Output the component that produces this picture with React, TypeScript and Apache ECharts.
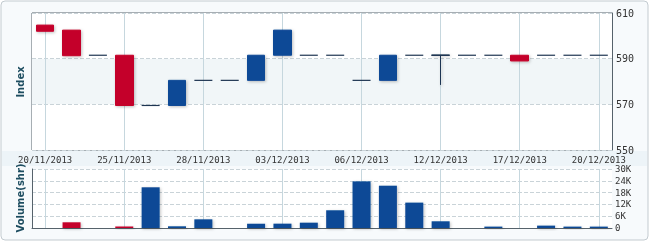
import React, { useEffect, useRef } from 'react';
import * as echarts from 'echarts';

const dates = [
  '20/11/2013', '21/11/2013', '22/11/2013', '25/11/2013', '26/11/2013', '27/11/2013',
  '28/11/2013', '29/11/2013', '02/12/2013', '03/12/2013', '04/12/2013', '05/12/2013',
  '06/12/2013', '09/12/2013', '11/12/2013', '12/12/2013', '13/12/2013', '16/12/2013',
  '17/12/2013', '18/12/2013', '19/12/2013', '20/12/2013',
];
const opens = [604.7, 602.5, 591.5, 591.5, 569.5, 569.5, 580.5, 580.5, 580.5, 591.5, 591.5, 591.5, 580.5, 580.5, 591.5, 591.5, 591.5, 591.5, 591.5, 591.5, 591.5, 591.5];
const closes = [602.0, 591.3, 591.5, 569.5, 569.5, 580.5, 580.5, 580.5, 591.5, 602.5, 591.5, 591.5, 580.5, 591.5, 591.5, 591.5, 591.5, 591.5, 589.0, 591.5, 591.5, 591.5];
const lows = [602.0, 591.3, 591.5, 569.5, 569.5, 569.5, 580.5, 580.5, 580.5, 591.5, 591.5, 591.5, 580.5, 580.5, 591.5, 578.5, 591.5, 591.5, 589.0, 591.5, 591.5, 591.5];
const highs = [604.7, 602.5, 591.5, 591.5, 569.5, 580.5, 580.5, 580.5, 591.5, 602.5, 591.5, 591.5, 580.5, 591.5, 591.5, 591.5, 591.5, 591.5, 591.5, 591.5, 591.5, 591.5];
const volumes = [0, 2900, 0, 700, 20700, 850, 4400, 0, 2200, 2200, 2700, 9000, 23700, 21500, 12900, 3400, 0, 700, 0, 1200, 700, 700];

const RED = '#c4002a';
const BLUE = '#0a4896';
const DOJI = '#1e3552';
const MONO = 'DejaVu Sans Mono';

export default function App() {
  const ref = useRef<HTMLDivElement>(null);
  useEffect(() => {
    if (!ref.current) return;
    const chart = echarts.init(ref.current, null, { renderer: 'svg' });
    const candleData = dates.map((_, i) => [opens[i], closes[i], lows[i], highs[i]]);
    const dojiData = dates.map((_, i) => [i, closes[i], opens[i] === closes[i] ? 1 : 0]);
    const volData = volumes.map((v, i) => ({
      value: v,
      itemStyle: { color: closes[i] < opens[i] ? RED : BLUE },
    }));
    const shadow = {
      shadowBlur: 3,
      shadowColor: 'rgba(0,0,0,0.25)',
      shadowOffsetX: 1,
      shadowOffsetY: 1,
    };
    chart.setOption({
      animation: false,
      backgroundColor: 'transparent',
      graphic: [
        {
          type: 'rect',
          z: -10,
          shape: { x: 1, y: 1, width: 647, height: 239, r: 4 },
          style: { fill: '#f7fafc', stroke: '#c3cbd0', lineWidth: 1 },
          silent: true,
        },
        {
          type: 'rect',
          z: -9,
          shape: { x: 2, y: 151, width: 645, height: 15 },
          style: { fill: '#edf4f8' },
          silent: true,
        },
        {
          type: 'text',
          x: 20,
          y: 82,
          rotation: Math.PI / 2,
          style: {
            text: 'Index',
            align: 'center',
            verticalAlign: 'middle',
            fill: '#1d4d60',
            font: 'bold 10px "DejaVu Sans"',
          },
        },
        {
          type: 'text',
          x: 20,
          y: 198,
          rotation: Math.PI / 2,
          style: {
            text: 'Volume(shr)',
            align: 'center',
            verticalAlign: 'middle',
            fill: '#1d4d60',
            font: 'bold 10px "DejaVu Sans"',
          },
        },
      ],
      grid: [
        {
          left: 32, right: 38, top: 13, height: 137,
          show: true, backgroundColor: '#ffffff', borderColor: '#56626b', borderWidth: 1,
        },
        {
          left: 32, right: 38, top: 169, height: 59,
          show: true, backgroundColor: '#ffffff', borderWidth: 0,
        },
      ],
      xAxis: [
        {
          type: 'category',
          gridIndex: 0,
          data: dates,
          boundaryGap: true,
          axisLine: { show: false },
          axisTick: { show: false },
          axisLabel: {
            interval: 2,
            margin: 5,
            color: '#333333',
            fontFamily: MONO,
            fontSize: 9,
          },
          splitLine: {
            show: true,
            interval: 2,
            alignWithLabel: true,
            lineStyle: { color: '#c6d7de', width: 1 },
          },
        },
        {
          type: 'category',
          gridIndex: 1,
          data: dates,
          boundaryGap: true,
          axisLine: { show: true, lineStyle: { color: '#56626b', width: 1 } },
          axisTick: { show: false },
          axisLabel: { show: false },
          splitLine: {
            show: true,
            interval: 2,
            alignWithLabel: true,
            lineStyle: { color: '#c6d7de', width: 1 },
          },
        },
      ],
      yAxis: [
        {
          type: 'value',
          gridIndex: 0,
          position: 'right',
          min: 550,
          max: 610,
          interval: 20,
          axisLine: { show: true, lineStyle: { color: '#56626b' } },
          axisTick: { show: false },
          axisLabel: { margin: 4, color: '#333333', fontFamily: MONO, fontSize: 10 },
          splitLine: { show: true, lineStyle: { color: '#c9d3d8', type: 'dashed', width: 1 } },
          splitArea: { show: true, areaStyle: { color: ['#ffffff', '#f1f6f8'] } },
        },
        {
          type: 'value',
          gridIndex: 1,
          position: 'right',
          min: 0,
          max: 30000,
          interval: 6000,
          axisLine: { show: false },
          axisTick: { show: false },
          axisLabel: {
            margin: 3,
            color: '#333333',
            fontFamily: MONO,
            fontSize: 9,
            formatter: (v: number) => (v === 0 ? '0' : v / 1000 + 'K'),
          },
          splitLine: { show: true, lineStyle: { color: '#c9d3d8', type: 'dashed', width: 1 } },
        },
        {
          type: 'value',
          gridIndex: 1,
          position: 'left',
          min: 0,
          max: 30000,
          interval: 6000,
          axisLine: { show: true, lineStyle: { color: '#56626b' } },
          axisTick: { show: false },
          axisLabel: { show: false },
          splitLine: { show: false },
        },
      ],
      series: [
        {
          type: 'candlestick',
          xAxisIndex: 0,
          yAxisIndex: 0,
          barWidth: 18,
          data: candleData,
          itemStyle: {
            color: BLUE,
            color0: RED,
            borderColor: BLUE,
            borderColor0: RED,
            borderColorDoji: DOJI,
            borderWidth: 1,
            ...shadow,
          },
        },
        {
          type: 'custom',
          xAxisIndex: 0,
          yAxisIndex: 0,
          data: dojiData,
          encode: { x: 0, y: 1 },
          renderItem: (params: any, api: any) => {
            if (!api.value(2)) return null;
            const p = api.coord([api.value(0), api.value(1)]);
            const half = 9;
            return {
              type: 'line',
              shape: { x1: p[0] - half, y1: p[1], x2: p[0] + half, y2: p[1] },
              style: { stroke: DOJI, lineWidth: 1.2 },
            };
          },
          z: 3,
        },
        {
          type: 'bar',
          xAxisIndex: 1,
          yAxisIndex: 1,
          barWidth: 18,
          data: volData,
          itemStyle: { ...shadow },
        },
      ],
    });
    return () => chart.dispose();
  }, []);
  return (
    <div
      ref={ref}
      style={{ position: 'fixed', left: 0, top: 0, width: 650, height: 242 }}
    />
  );
}
